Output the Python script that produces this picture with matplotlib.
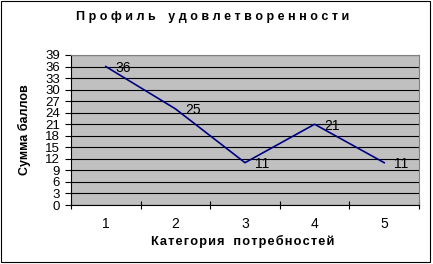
import matplotlib
matplotlib.use("Agg")
import matplotlib.pyplot as plt
from matplotlib.patches import Rectangle
from matplotlib.ticker import FixedLocator, NullFormatter

plt.rcParams['font.family'] = ['Liberation Sans', 'DejaVu Sans']

# data
categories = [1, 2, 3, 4, 5]
scores = [36, 25, 11, 21, 11]
y_ticks = list(range(0, 40, 3))

title = "Профиль удовлетворенности"
xlabel = "Категория потребностей"
ylabel = "Сумма баллов"


def spaced(s, gap, word_gap):
    # letter spacing like the original chart
    return word_gap.join(gap.join(w) for w in s.split(" "))


W, H = 433, 264
fig = plt.figure(figsize=(W / 100, H / 100), dpi=100)
fig.patch.set_facecolor('white')

# outer border of chart
fig.patches.append(Rectangle((1 / W, 2 / H), 429 / W, 261 / H, transform=fig.transFigure,
                             fill=False, edgecolor='black', linewidth=0.8))

ax = fig.add_axes([71 / W, (H - 205) / H, 348 / W, 150 / H])
ax.set_facecolor('#C0C0C0')

ax.plot(categories, scores, color='#000080', linewidth=1.2, zorder=3)
for c, v in zip(categories, scores):
    ax.annotate(str(v), (c, v), xytext=(7, -1), textcoords='offset points',
                ha='left', va='center', fontsize=10, zorder=4)

ax.set_xlim(0.5, 5.5)
ax.set_ylim(0, 39)
ax.set_yticks(y_ticks)
ax.set_yticklabels([str(t) for t in y_ticks], fontsize=9.5)
ax.tick_params(axis='y', direction='out', length=4, width=0.8, pad=4)

# ticks on category boundaries, labels in the middle
ax.xaxis.set_major_locator(FixedLocator([c - 0.5 for c in categories] + [categories[-1] + 0.5]))
ax.xaxis.set_major_formatter(NullFormatter())
ax.xaxis.set_minor_locator(FixedLocator(categories))
ax.set_xticklabels([str(c) for c in categories], minor=True, fontsize=10)
ax.tick_params(axis='x', which='major', direction='inout', length=6, width=0.8)
ax.tick_params(axis='x', which='minor', length=0, pad=9)

ax.yaxis.grid(True, color='black', linewidth=0.8)
ax.set_axisbelow(True)

for side in ['top', 'right']:
    ax.spines[side].set_color('#808080')
for side in ['left', 'bottom']:
    ax.spines[side].set_color('black')
for sp in ax.spines.values():
    sp.set_linewidth(0.8)
    sp.set_zorder(5)

fig.text(213 / W, (H - 17) / H, spaced(title, '\u2009\u200a', '\u2003'),
         ha='center', va='center', fontsize=9, fontweight='bold')
fig.text(243 / W, (H - 241) / H, spaced(xlabel, '\u200a', '\u2002\u2009'),
         ha='center', va='center', fontsize=9.2, fontweight='bold')
fig.text(24 / W, (H - 130) / H, ylabel, ha='center', va='center', rotation=90,
         fontsize=9, fontweight='bold')

fig.savefig('out.png', dpi=100)
